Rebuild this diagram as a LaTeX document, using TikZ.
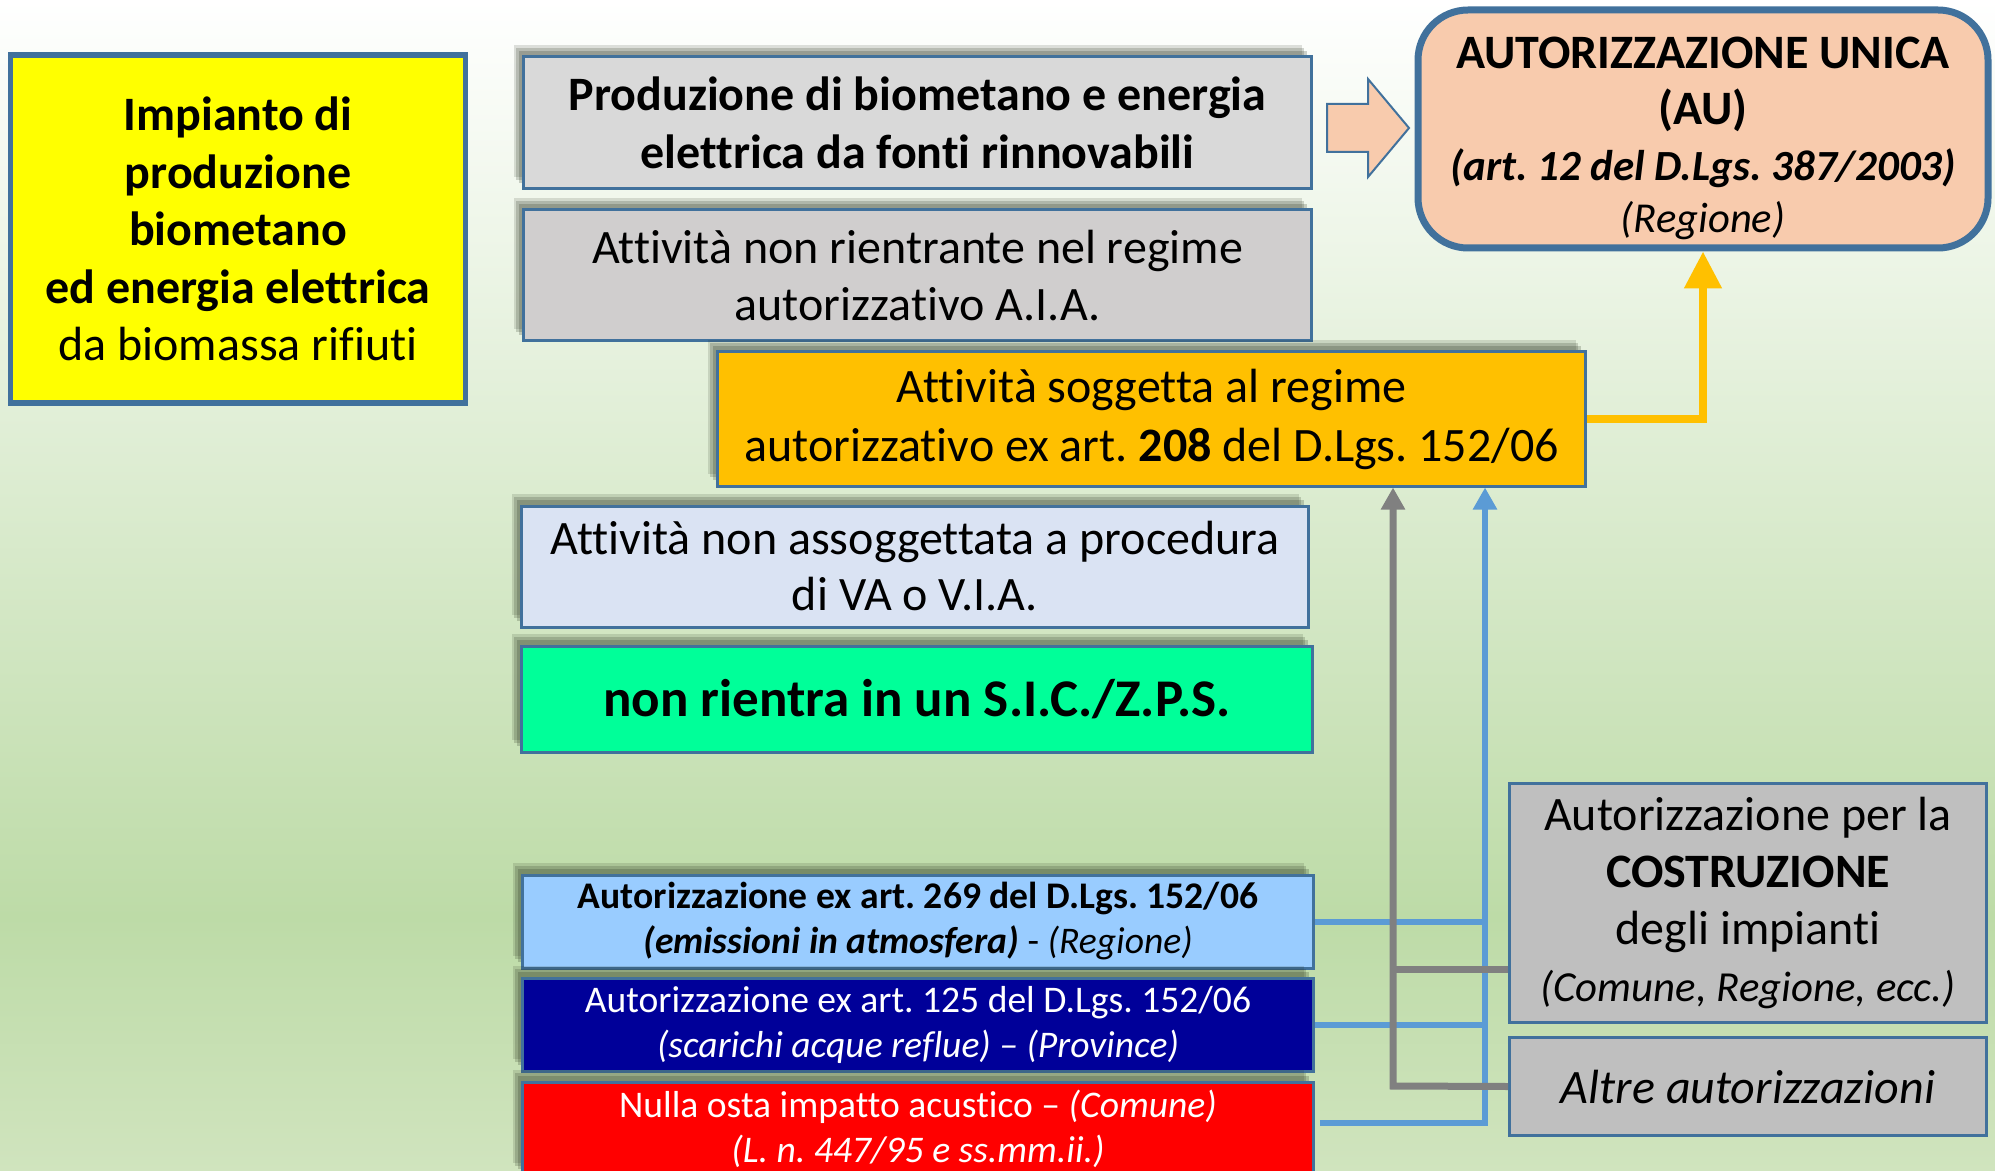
\documentclass[tikz,border=0pt]{standalone}
\usepackage{fontspec}
\setmainfont{Carlito}[Ligatures=NoCommon]
\usetikzlibrary{shadows,arrows.meta,calc}
\definecolor{bordc}{RGB}{65,113,156}
\definecolor{peach}{RGB}{248,203,173}
\definecolor{grayA}{RGB}{217,217,217}
\definecolor{grayB}{RGB}{208,206,206}
\definecolor{orangeF}{RGB}{255,192,0}
\definecolor{lavF}{RGB}{218,227,243}
\definecolor{greenF}{RGB}{0,255,153}
\definecolor{lblueF}{RGB}{153,204,255}
\definecolor{dblueF}{RGB}{0,0,153}
\definecolor{redF}{RGB}{255,0,0}
\definecolor{yelF}{RGB}{255,255,0}
\definecolor{rgrayF}{RGB}{191,191,191}
\definecolor{lineGray}{RGB}{128,128,128}
\definecolor{lineBlue}{RGB}{91,155,213}
\definecolor{bgA}{RGB}{189,219,167}
\definecolor{bgB}{RGB}{208,228,190}
\definecolor{shadowC}{RGB}{40,50,30}
\pgfdeclarelayer{bglayer}
\pgfsetlayers{bglayer,main}
\frenchspacing
\tikzset{
  box/.style={draw=bordc, line width=1.5pt, inner sep=0pt, align=center, text=black},
  shbox/.style={box,
    drop shadow={shadow xshift=-5pt, shadow yshift=6pt, opacity=0.15, fill=shadowC},
    drop shadow={shadow xshift=-3.8pt, shadow yshift=4.6pt, opacity=0.2, fill=shadowC},
    drop shadow={shadow xshift=-2.5pt, shadow yshift=3pt, opacity=0.22, fill=shadowC}},
  fbig/.style={font=\fontsize{24}{28.75}\selectfont},
  fsmall/.style={font=\fontsize{18.8}{22.5}\selectfont},
  grayconn/.style={draw=lineGray, line width=3.5pt},
  blueconn/.style={draw=lineBlue, line width=3pt},
  orconn/.style={draw=orangeF, line width=4pt},
  lineshadow/.style={draw=shadowC, opacity=0.22, line width=4pt},
  lineshadowb/.style={draw=shadowC, opacity=0.14, line width=7pt},
}
\begin{document}
\begin{tikzpicture}[x=0.5pt,y=-0.5pt]
\useasboundingbox (0,0) rectangle (1995,1171);
\shade[top color=white, bottom color=bgA] (0,0) rectangle (1995,917);
\shade[top color=bgA, bottom color=bgB] (0,916) rectangle (1995,1171);

% left yellow box
\node[box, line width=2.75pt, fill=yelF, minimum width=227.5pt, minimum height=174pt, fbig] (imp) at (238,229)
  {\textbf{Impianto di}\\\textbf{produzione}\\\textbf{biometano}\\\textbf{ed energia elettrica}\\da biomassa rifiuti};

% central column
\node[shbox, fill=grayA, minimum width=394pt, minimum height=66pt, fbig] (prod) at (917.5,123)
  {\textbf{Produzione di biometano e energia}\\\textbf{elettrica da fonti rinnovabili}};
\node[shbox, fill=grayB, minimum width=394pt, minimum height=65.5pt, fbig] (aia) at (917.5,275.5)
  {Attività non rientrante nel regime\\autorizzativo A.I.A.};
\node[shbox, fill=orangeF, minimum width=434pt, minimum height=67pt, font=\fontsize{24}{29.5}\selectfont] (art208) at (1151.5,419)
  {Attività soggetta al regime\\autorizzativo ex art. \textbf{208} del D.Lgs. 152/06};
\node[shbox, fill=lavF, minimum width=393.5pt, minimum height=60.5pt, font=\fontsize{24}{28}\selectfont] (via) at (915,566.5)
  {Attività non assoggettata a procedura\\di VA o V.I.A.};
\node[shbox, fill=greenF, minimum width=395.5pt, minimum height=53pt, font=\fontsize{26.5}{30}\selectfont\bfseries] (sic) at (917,699)
  {non rientra in un S.I.C./Z.P.S.};

\node[shbox, fill=lblueF, minimum width=395.5pt, minimum height=46.5pt, fsmall] (a269) at (918,921.5)
  {\textbf{Autorizzazione ex art. 269 del D.Lgs. 152/06}\\\textbf{\textit{(emissioni in atmosfera)}} - \textit{(Regione)}};
\node[shbox, fill=dblueF, text=white, minimum width=395.5pt, minimum height=46.5pt, fsmall] (a125) at (918,1024.5)
  {Autorizzazione ex art. 125 del D.Lgs. 152/06\\\textit{(scarichi acque reflue) – (Province)}};
\node[shbox, fill=redF, text=white, minimum width=395.5pt, minimum height=46.5pt, fsmall] (acu) at (918,1128.5)
  {Nulla osta impatto acustico – \textit{(Comune)}\\\textit{(L. n. 447/95 e ss.mm.ii.)}};

% AU box
\node[box, rounded corners=25pt, line width=3.5pt, fill=peach, minimum width=285pt, minimum height=119pt,
  font=\fontsize{24}{28}\selectfont] (au) at (1703,129)
  {\rule{0pt}{25pt}\textbf{AUTORIZZAZIONE UNICA}\\\textbf{(AU)}\\{\fontsize{21.5}{28}\selectfont\textbf{\textit{(art. 12 del D.Lgs. 387/2003)}}}\\[-2pt]{\fontsize{21.3}{26}\selectfont\textit{(Regione)}}};

% block arrow between the first box and the AU box
\coordinate (barrow) at (1327,128);
\draw[draw=bordc, line width=1pt, fill=peach, line join=miter]
  (barrow) ++(0,-24) -- ++(41,0) -- ++(0,-25) -- ++(41,49) -- ++(-41,49) -- ++(0,-25) -- ++(-41,0) -- cycle;

% right gray boxes
\node[box, fill=rgrayF, minimum width=238.5pt, minimum height=119.5pt, font=\fontsize{24}{28.5}\selectfont] (costr) at (1748,903)
  {Autorizzazione per la\\\textbf{COSTRUZIONE}\\degli impianti\\{\fontsize{21.4}{28.5}\selectfont\textit{(Comune, Regione, ecc.)}}};
\node[box, fill=rgrayF, minimum width=238.5pt, minimum height=49pt, font=\fontsize{24}{28}\selectfont] (altre) at (1748,1086.5)
  {\textit{Altre autorizzazioni}};

% connector coordinates
\coordinate (gx) at (1393,1086);
\coordinate (bx) at (1485,1123);
\coordinate (cj) at ($(costr.west)+(0,66)$);

% line shadows (background layer)
\begin{pgfonlayer}{bglayer}
\begin{scope}[shift={(-9,-10)}]
  \draw[lineshadowb] (acu.east) -- (acu.east -| bx) -- (bx |- art208.south);
  \draw[lineshadowb] (a269.east) -- (a269.east -| bx);
  \draw[lineshadowb] (a125.east) -- (a125.east -| bx);
\end{scope}
\begin{scope}[shift={(-7,-8)}]
  \draw[lineshadow] (acu.east) -- (acu.east -| bx) -- (bx |- art208.south);
  \draw[lineshadow] (a269.east) -- (a269.east -| bx);
  \draw[lineshadow] (a125.east) -- (a125.east -| bx);
\end{scope}
\end{pgfonlayer}

% blue connectors
\draw[blueconn] (a269.east) -- (a269.east -| bx);
\draw[blueconn] (a125.east) -- (a125.east -| bx);
\draw[blueconn, -{Triangle[width=11.5pt,length=11pt]}] ([xshift=2.5pt,yshift=3pt]acu.east) -- ([yshift=3pt]acu.east -| bx) -- (bx |- art208.south);

% gray connectors
\draw[grayconn] (cj) -- (cj -| gx);
\draw[grayconn, -{Triangle[width=11.5pt,length=11pt]}] (altre.west) -- (gx) -- (gx |- art208.south);

% orange connector
\draw[orconn, -{Triangle[width=18pt,length=18.5pt]}] (art208.east) -| (au.south);
\end{tikzpicture}
\end{document}
